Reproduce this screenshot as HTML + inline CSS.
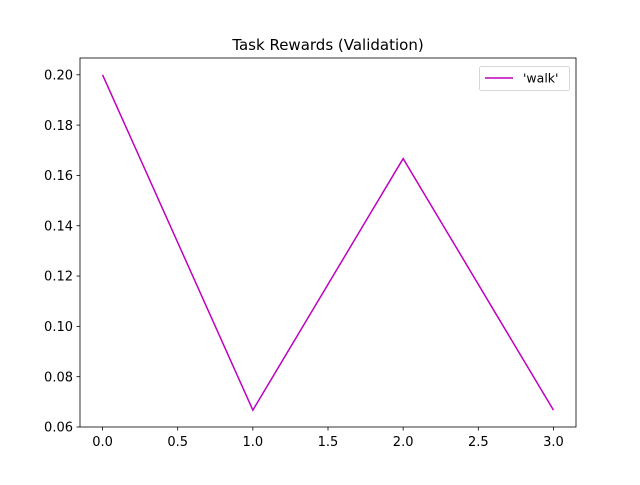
<!DOCTYPE html>
<html><head><meta charset="utf-8"><style>
body{margin:0;background:#fff;}
svg text{font-family:"DejaVu Sans","Liberation Sans",sans-serif;}
</style></head><body>
<svg id="chart" width="640" height="480" xmlns="http://www.w3.org/2000/svg">
<rect width="640" height="480" fill="#fff"/>
<text x="328" y="50" font-size="15" text-anchor="middle">Task Rewards (Validation)</text>
<g id="ticks"></g>
<polyline id="line" fill="none" stroke="#bf00bf" stroke-width="1.5"/>
<rect x="80" y="58" width="496" height="369" fill="none" stroke="#000" stroke-width="0.8"/>
<g>
<rect x="479.5" y="66.5" width="90" height="24" rx="2" fill="#fff" stroke="#ccc" stroke-width="0.8"/>
<line x1="485" y1="78" x2="513" y2="78" stroke="#bf00bf" stroke-width="1.5"/>
<text x="523" y="82.5" font-size="12.5">'walk'</text>
</g>
</svg>
<script>
const xValues=[0,1,2,3];
const walkValues=[0.2,0.0667,0.1667,0.0667];
const xTicks=[0,0.5,1,1.5,2,2.5,3];
const xTickLabels=["0.0","0.5","1.0","1.5","2.0","2.5","3.0"];
const yTicks=[0.06,0.08,0.10,0.12,0.14,0.16,0.18,0.20];
const yTickLabels=["0.06","0.08","0.10","0.12","0.14","0.16","0.18","0.20"];

const L=80,R=576,T=58,B=427;
const xmin=-0.15,xmax=3.15,ymin=0.06,ymax=0.20667;
const sx=v=>L+(v-xmin)/(xmax-xmin)*(R-L);
const sy=v=>B-(v-ymin)/(ymax-ymin)*(B-T);
const NS="http://www.w3.org/2000/svg";
const g=document.getElementById('ticks');
function mk(tag,attrs){const e=document.createElementNS(NS,tag);for(const k in attrs)e.setAttribute(k,attrs[k]);return e;}
xTicks.forEach((v,i)=>{
  const x=sx(v);
  const t=mk('line',{x1:x,y1:B,x2:x,y2:B+3.5,stroke:'#000','stroke-width':0.8});
  
  
  g.appendChild(t);
  const l=mk('text',{x:x,y:B+19,'font-size':13,'text-anchor':'middle'});
  
  
  l.textContent=xTickLabels[i];g.appendChild(l);
});
yTicks.forEach((v,i)=>{
  const y=sy(v);
  const t=mk('line',{x1:L-3.5,y1:y,x2:L,y2:y,stroke:'#000','stroke-width':0.8});
  
  
  g.appendChild(t);
  const l=mk('text',{x:L-7,y:y+4.7,'font-size':13,'text-anchor':'end'});
  
  
  l.textContent=yTickLabels[i];g.appendChild(l);
});
document.getElementById('line').setAttribute('points',xValues.map((x,i)=>sx(x)+','+sy(walkValues[i])).join(' '));
</script>
</body></html>
